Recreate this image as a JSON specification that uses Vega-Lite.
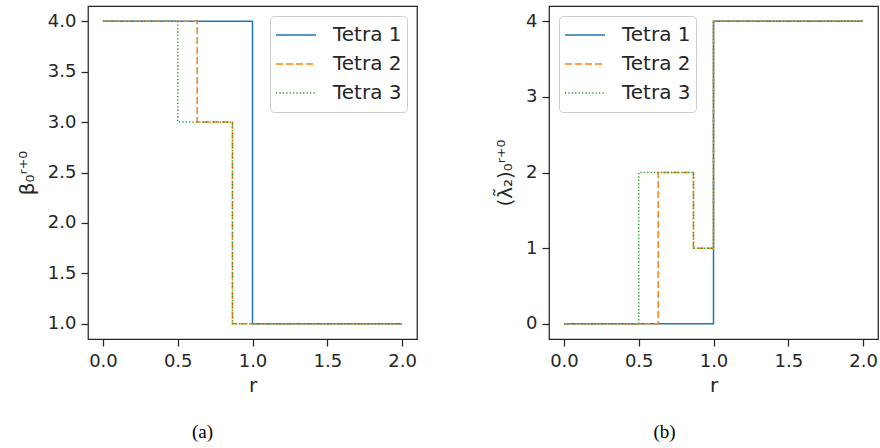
{
  "$schema": "https://vega.github.io/schema/vega-lite/v6.json",
  "padding": {"left": 16, "top": 5, "right": 0, "bottom": 0},
  "bounds": "flush",
  "spacing": 132,
  "background": "white",
  "datasets": {
    "beta": [
      {"series": "Tetra 1", "r": 0, "v": 4},
      {"series": "Tetra 1", "r": 1.0, "v": 1},
      {"series": "Tetra 1", "r": 2.0, "v": 1},
      {"series": "Tetra 2", "r": 0, "v": 4},
      {"series": "Tetra 2", "r": 0.63, "v": 3},
      {"series": "Tetra 2", "r": 0.866, "v": 1},
      {"series": "Tetra 2", "r": 2.0, "v": 1},
      {"series": "Tetra 3", "r": 0, "v": 4},
      {"series": "Tetra 3", "r": 0.5, "v": 3},
      {"series": "Tetra 3", "r": 0.866, "v": 1},
      {"series": "Tetra 3", "r": 2.0, "v": 1}
    ],
    "lambda": [
      {"series": "Tetra 1", "r": 0, "v": 0},
      {"series": "Tetra 1", "r": 1.0, "v": 4},
      {"series": "Tetra 1", "r": 2.0, "v": 4},
      {"series": "Tetra 2", "r": 0, "v": 0},
      {"series": "Tetra 2", "r": 0.63, "v": 2},
      {"series": "Tetra 2", "r": 0.866, "v": 1},
      {"series": "Tetra 2", "r": 1.0, "v": 4},
      {"series": "Tetra 2", "r": 2.0, "v": 4},
      {"series": "Tetra 3", "r": 0, "v": 0},
      {"series": "Tetra 3", "r": 0.5, "v": 2},
      {"series": "Tetra 3", "r": 0.866, "v": 1},
      {"series": "Tetra 3", "r": 1.0, "v": 4},
      {"series": "Tetra 3", "r": 2.0, "v": 4}
    ]
  },
  "hconcat": [
    {
      "width": 329,
      "height": 333,
      "data": {"name": "beta"},
      "title": {"text": "(a)", "orient": "bottom", "anchor": "middle", "dx": -50, "offset": 28, "font": "Liberation Serif", "fontSize": 19, "fontWeight": "normal", "color": "#000000"},
      "mark": {"type": "line", "interpolate": "step-after", "strokeWidth": 1.5},
      "encoding": {
        "x": {"field": "r", "type": "quantitative", "title": "r",
              "scale": {"domain": [-0.1, 2.1], "nice": false, "zero": false},
              "axis": {"values": [0, 0.5, 1, 1.5, 2], "format": ".1f"}},
        "y": {"field": "v", "type": "quantitative", "title": "β₀ʳ⁺⁰",
              "scale": {"domain": [0.85, 4.15], "nice": false, "zero": false},
              "axis": {"values": [1, 1.5, 2, 2.5, 3, 3.5, 4], "format": ".1f"}},
        "color": {"field": "series", "type": "nominal", "title": null,
                  "scale": {"domain": ["Tetra 1", "Tetra 2", "Tetra 3"], "range": ["#1f77b4", "#ff7f0e", "#2ca02c"]},
                  "legend": {"orient": "top-right"}},
        "strokeDash": {"field": "series", "type": "nominal", "title": null,
                  "scale": {"domain": ["Tetra 1", "Tetra 2", "Tetra 3"], "range": [[1, 0], [7, 3], [1.3, 2.1]]},
                  "legend": {"orient": "top-right"}}
      }
    },
    {
      "width": 329,
      "height": 333,
      "data": {"name": "lambda"},
      "title": {"text": "(b)", "orient": "bottom", "anchor": "middle", "dx": -49, "offset": 28, "font": "Liberation Serif", "fontSize": 19, "fontWeight": "normal", "color": "#000000"},
      "mark": {"type": "line", "interpolate": "step-after", "strokeWidth": 1.5},
      "encoding": {
        "x": {"field": "r", "type": "quantitative", "title": "r",
              "scale": {"domain": [-0.1, 2.1], "nice": false, "zero": false},
              "axis": {"values": [0, 0.5, 1, 1.5, 2], "format": ".1f"}},
        "y": {"field": "v", "type": "quantitative", "title": "(λ̃₂)₀ʳ⁺⁰",
              "scale": {"domain": [-0.2, 4.2], "nice": false, "zero": false},
              "axis": {"values": [0, 1, 2, 3, 4], "format": "d"}},
        "color": {"field": "series", "type": "nominal", "title": null,
                  "scale": {"domain": ["Tetra 1", "Tetra 2", "Tetra 3"], "range": ["#1f77b4", "#ff7f0e", "#2ca02c"]},
                  "legend": {"orient": "top-left"}},
        "strokeDash": {"field": "series", "type": "nominal", "title": null,
                  "scale": {"domain": ["Tetra 1", "Tetra 2", "Tetra 3"], "range": [[1, 0], [7, 3], [1.3, 2.1]]},
                  "legend": {"orient": "top-left"}}
      }
    }
  ],
  "resolve": {"scale": {"color": "independent", "strokeDash": "independent"}, "legend": {"color": "independent", "strokeDash": "independent"}},
  "config": {
    "view": {"stroke": "#262626", "strokeWidth": 1.25},
    "font": "DejaVu Sans",
    "axis": {
      "grid": false,
      "domain": false,
      "labelFont": "DejaVu Sans",
      "labelFontSize": 18,
      "labelColor": "#262626",
      "tickColor": "#262626",
      "tickWidth": 1.25,
      "tickSize": 7,
      "labelPadding": 5,
      "titleFont": "DejaVu Sans",
      "titleFontSize": 20,
      "titleFontWeight": "normal",
      "titleColor": "#262626"
    },
    "axisX": {"titlePadding": 5, "labelPadding": 6},
    "axisY": {"titlePadding": 10},
    "legend": {
      "symbolType": "stroke",
      "symbolSize": 1600,
      "symbolStrokeWidth": 1.5,
      "labelFont": "DejaVu Sans",
      "labelFontSize": 20,
      "labelColor": "#262626",
      "labelOffset": 16,
      "strokeColor": "#cccccc",
      "fillColor": "rgba(255,255,255,0.85)",
      "cornerRadius": 4,
      "padding": 5,
      "offset": 10,
      "clipHeight": 28,
      "rowPadding": 1
    }
  }
}
